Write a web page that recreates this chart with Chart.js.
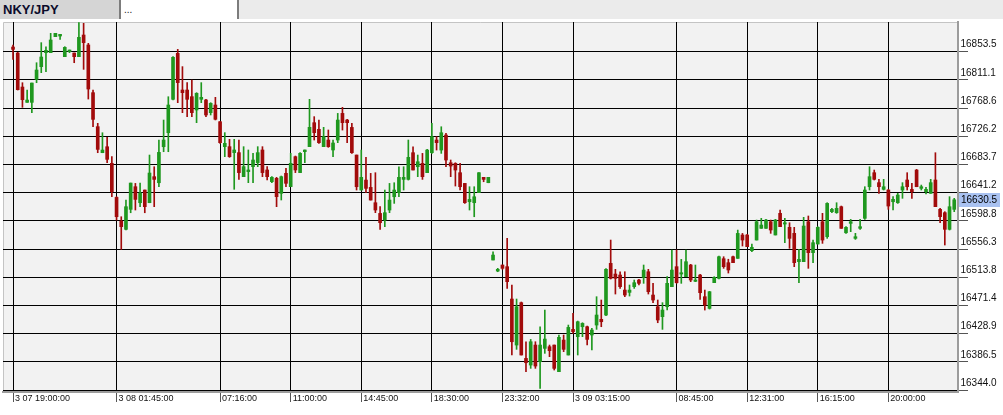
<!DOCTYPE html>
<html>
<head>
<meta charset="utf-8">
<script src="https://cdn.jsdelivr.net/npm/chart.js@4.4.1/dist/chart.umd.min.js"></script>
<style>
  html, body { margin: 0; padding: 0; background: #fff; }
  #wrap { position: relative; width: 1003px; height: 415px; overflow: hidden; }
  #c { position: absolute; left: 0; top: 0; }
  .tab { position: absolute; top: 0; height: 19px; line-height: 19px; font-family: "Liberation Sans", Arial, sans-serif; }
  #t1 { left: 0; width: 119px; background: #d5d5d5; font-weight: bold; font-size: 13px; color: #0b0b2a; padding-left: 3px; box-sizing: border-box; }
  #s1 { left: 119px; width: 2px; background: #7c7c7c; }
  #t2 { left: 121px; width: 116px; background: #fff; font-size: 10px; color: #222; padding-left: 3px; box-sizing: border-box; }
  #s2 { left: 237px; width: 2px; background: #7c7c7c; }
  #t3 { left: 239px; width: 764px; background: #ebebeb; }
</style>
</head>
<body>
<div id="wrap">
  <canvas id="c" width="1003" height="415"></canvas>
  <div class="tab" id="t1">NKY/JPY</div>
  <div class="tab" id="s1"></div>
  <div class="tab" id="t2">...</div>
  <div class="tab" id="s2"></div>
  <div class="tab" id="t3"></div>
</div>
<script>
// candles, 15 min each (index = candle number)
const openPrices = [
  16860.5, 16851.5, 16800.3, 16777.2, 16777.2, 16811.8, 16830.9, 16852.0, 16852.0, 16876.1,
  16877.1, 16846.0, 16853.5, 16851.5, 16846.0, 16878.6, 16863.6, 16791.8, 16740.6, 16701.4,
  16710.4, 16685.4, 16634.1, 16598.5, 16586.0, 16616.1, 16650.2, 16626.1, 16645.2, 16626.1,
  16665.3, 16656.2, 16710.4, 16731.5, 16781.8, 16851.0, 16795.8, 16795.8, 16785.8, 16765.7,
  16781.8, 16780.8, 16761.7, 16773.2, 16748.1, 16710.5, 16710.5, 16701.5, 16701.5, 16665.3,
  16672.9, 16680.4, 16686.4, 16705.5, 16675.4, 16657.8, 16662.8, 16640.2, 16670.4, 16650.3,
  16695.4, 16671.4, 16703.0, 16710.5, 16746.6, 16736.6, 16710.5, 16720.5, 16705.5, 16720.5,
  16760.6, 16750.6, 16739.5, 16697.9, 16645.2, 16660.2, 16649.2, 16626.1, 16610.0, 16600.0,
  16615.1, 16635.1, 16641.2, 16661.2, 16661.2, 16701.4, 16680.3, 16685.3, 16671.3, 16701.4,
  16720.5, 16705.4, 16728.0, 16686.3, 16685.3, 16671.3, 16655.2, 16627.6, 16626.1, 16641.2,
  16664.3, 16656.2, 16539.8, 16523.2, 16532.3, 16529.8, 16481.1, 16411.8, 16475.6, 16391.7,
  16381.7, 16411.8, 16386.7, 16406.8, 16409.3, 16411.8, 16371.7, 16419.3, 16396.8, 16435.4,
  16424.4, 16439.4, 16439.4, 16426.9, 16441.9, 16450.5, 16457.0, 16534.8, 16518.7, 16517.2,
  16494.6, 16491.1, 16499.7, 16509.7, 16513.7, 16522.2, 16487.1, 16469.5, 16454.5, 16469.5,
  16499.7, 16529.8, 16518.7, 16514.7, 16532.3, 16507.7, 16517.2, 16484.6, 16467.0, 16505.7,
  16512.2, 16541.8, 16535.8, 16544.8, 16542.3, 16577.5, 16577.5, 16553.9, 16569.9, 16587.5,
  16587.5, 16597.5, 16577.5, 16610.1, 16594.0, 16589.0, 16580.0, 16537.3, 16537.3, 16597.5,
  16550.9, 16563.9, 16597.5, 16574.9, 16612.6, 16611.1, 16620.1, 16580.9, 16595.0, 16572.4,
  16587.5, 16602.6, 16650.2, 16671.3, 16656.3, 16646.2, 16645.2, 16627.6, 16626.1, 16645.2,
  16660.3, 16646.2, 16675.3, 16647.7, 16642.7, 16640.2, 16660.3, 16616.1, 16611.1, 16586.0,
  16616.1
];
const highPrices = [
  16863.6, 16852.5, 16806.8, 16795.8, 16806.3, 16836.9, 16867.1, 16861.0, 16881.1, 16881.1,
  16879.6, 16861.0, 16856.0, 16851.5, 16897.2, 16896.2, 16866.1, 16795.8, 16745.6, 16731.5,
  16724.5, 16695.4, 16635.2, 16605.0, 16630.1, 16655.7, 16655.2, 16655.7, 16645.2, 16697.9,
  16680.3, 16720.5, 16750.6, 16785.7, 16846.0, 16857.0, 16831.0, 16806.9, 16810.9, 16791.8,
  16806.9, 16781.8, 16776.7, 16784.8, 16748.1, 16731.6, 16721.5, 16721.5, 16720.5, 16710.5,
  16705.5, 16700.5, 16710.5, 16710.5, 16680.4, 16665.3, 16664.3, 16666.3, 16677.9, 16700.5,
  16696.4, 16701.5, 16705.5, 16781.8, 16755.7, 16750.7, 16739.6, 16735.6, 16720.5, 16760.6,
  16769.7, 16751.6, 16745.6, 16697.9, 16705.4, 16694.4, 16670.3, 16671.3, 16620.1, 16645.2,
  16655.2, 16656.2, 16680.3, 16680.3, 16720.5, 16710.4, 16697.9, 16700.4, 16706.4, 16745.6,
  16725.5, 16740.5, 16730.5, 16690.4, 16686.3, 16685.3, 16655.2, 16650.2, 16650.2, 16671.3,
  16664.3, 16664.3, 16552.3, 16527.3, 16532.3, 16572.4, 16502.2, 16481.1, 16476.6, 16416.8,
  16420.3, 16416.8, 16439.4, 16464.5, 16411.8, 16411.8, 16426.9, 16426.9, 16441.9, 16459.5,
  16447.9, 16445.4, 16440.4, 16436.9, 16484.6, 16479.6, 16526.8, 16569.9, 16525.8, 16522.2,
  16522.2, 16502.2, 16509.7, 16510.7, 16532.3, 16525.8, 16504.7, 16479.6, 16475.6, 16514.7,
  16554.9, 16554.9, 16540.8, 16554.9, 16533.3, 16532.3, 16518.2, 16494.6, 16492.6, 16514.7,
  16545.8, 16544.8, 16541.0, 16545.8, 16584.9, 16579.9, 16578.5, 16563.9, 16600.0, 16602.6,
  16601.0, 16600.0, 16601.0, 16615.1, 16602.6, 16596.0, 16589.0, 16555.9, 16604.1, 16606.1,
  16569.9, 16590.0, 16610.1, 16626.1, 16617.6, 16626.1, 16621.1, 16590.0, 16601.0, 16580.0,
  16601.0, 16650.2, 16680.3, 16675.3, 16661.3, 16661.3, 16646.2, 16635.2, 16640.2, 16656.3,
  16671.3, 16655.3, 16676.3, 16652.7, 16649.2, 16661.3, 16701.4, 16617.6, 16612.6, 16635.2,
  16632.7
];
const lowPrices = [
  16842.0, 16795.8, 16769.7, 16777.2, 16761.6, 16806.8, 16821.9, 16823.4, 16852.0, 16876.1,
  16872.1, 16846.0, 16852.0, 16836.9, 16846.0, 16826.9, 16782.2, 16740.6, 16701.4, 16701.4,
  16686.4, 16635.2, 16600.0, 16555.8, 16585.0, 16611.0, 16615.1, 16620.1, 16611.0, 16626.1,
  16620.1, 16650.2, 16702.9, 16702.9, 16780.8, 16776.7, 16761.7, 16755.7, 16755.7, 16746.6,
  16776.7, 16755.7, 16758.2, 16750.7, 16715.5, 16695.4, 16694.4, 16646.3, 16661.3, 16665.3,
  16656.3, 16656.3, 16680.4, 16665.3, 16660.3, 16656.3, 16620.1, 16630.2, 16650.3, 16650.3,
  16671.4, 16671.4, 16686.4, 16710.5, 16720.5, 16715.5, 16710.5, 16709.5, 16695.4, 16716.5,
  16735.5, 16716.5, 16700.4, 16645.2, 16645.2, 16641.2, 16630.1, 16611.1, 16586.0, 16590.0,
  16611.1, 16625.1, 16635.1, 16645.2, 16660.2, 16675.3, 16665.3, 16661.2, 16671.3, 16700.4,
  16705.4, 16700.4, 16680.3, 16665.3, 16651.2, 16645.2, 16625.1, 16615.1, 16605.0, 16641.2,
  16657.7, 16656.2, 16539.8, 16522.2, 16525.8, 16497.1, 16396.8, 16405.3, 16396.8, 16371.7,
  16376.7, 16376.7, 16346.6, 16399.3, 16394.3, 16374.2, 16371.7, 16401.8, 16396.8, 16429.4,
  16396.8, 16424.4, 16411.8, 16404.3, 16435.4, 16439.4, 16456.0, 16511.2, 16488.6, 16497.1,
  16484.6, 16485.6, 16497.1, 16502.2, 16504.7, 16488.6, 16475.6, 16445.4, 16435.4, 16464.5,
  16499.7, 16504.7, 16504.7, 16514.7, 16507.2, 16507.2, 16480.6, 16464.5, 16466.0, 16505.7,
  16511.2, 16527.3, 16520.2, 16535.8, 16542.3, 16560.9, 16559.9, 16552.4, 16569.9, 16587.5,
  16587.5, 16580.0, 16577.5, 16590.0, 16565.9, 16557.4, 16529.8, 16505.7, 16537.3, 16527.3,
  16535.8, 16563.9, 16564.9, 16572.4, 16611.1, 16610.1, 16587.5, 16579.9, 16582.5, 16570.9,
  16586.0, 16601.0, 16645.2, 16660.3, 16640.2, 16645.2, 16616.1, 16615.1, 16625.1, 16632.7,
  16645.2, 16632.7, 16650.2, 16645.2, 16639.2, 16640.2, 16620.1, 16596.0, 16562.4, 16585.0,
  16612.6
];
const closePrices = [
  16857.0, 16796.3, 16781.2, 16780.7, 16806.3, 16825.9, 16845.5, 16855.5, 16871.1, 16881.1,
  16879.6, 16860.0, 16856.0, 16846.0, 16875.1, 16867.1, 16797.3, 16751.6, 16706.4, 16705.4,
  16691.4, 16642.7, 16605.0, 16590.0, 16620.1, 16655.7, 16631.1, 16640.7, 16620.1, 16670.8,
  16661.2, 16701.9, 16720.5, 16773.2, 16845.0, 16806.9, 16791.8, 16781.8, 16761.7, 16790.8,
  16784.8, 16758.2, 16775.7, 16751.7, 16716.5, 16715.5, 16695.4, 16705.5, 16671.4, 16680.4,
  16675.4, 16690.4, 16701.5, 16671.4, 16665.3, 16664.3, 16635.2, 16665.3, 16655.3, 16685.4,
  16675.4, 16700.5, 16705.5, 16739.6, 16731.6, 16716.5, 16725.6, 16710.5, 16716.0, 16750.6,
  16746.6, 16746.6, 16701.4, 16650.2, 16664.3, 16647.7, 16630.1, 16615.1, 16596.0, 16611.1,
  16630.1, 16645.2, 16664.3, 16664.3, 16694.4, 16675.3, 16687.8, 16665.3, 16705.4, 16725.5,
  16716.5, 16731.5, 16690.4, 16681.3, 16675.3, 16650.2, 16626.1, 16631.1, 16635.1, 16671.3,
  16661.2, 16664.3, 16547.3, 16525.8, 16527.3, 16507.2, 16416.8, 16469.5, 16396.8, 16385.2,
  16416.8, 16380.2, 16411.8, 16420.8, 16403.3, 16376.7, 16423.4, 16405.3, 16438.4, 16431.9,
  16446.9, 16444.4, 16420.3, 16434.4, 16457.0, 16446.9, 16525.8, 16512.2, 16512.2, 16499.7,
  16487.1, 16494.6, 16505.7, 16504.7, 16524.7, 16492.1, 16479.6, 16449.5, 16464.5, 16504.7,
  16524.7, 16505.7, 16520.7, 16537.3, 16509.7, 16509.7, 16490.6, 16472.1, 16492.1, 16513.7,
  16544.8, 16529.8, 16524.8, 16535.8, 16579.9, 16569.9, 16559.9, 16558.9, 16597.5, 16592.5,
  16600.0, 16585.0, 16600.0, 16590.0, 16596.0, 16572.4, 16535.8, 16540.8, 16591.0, 16550.9,
  16565.9, 16589.0, 16569.9, 16625.1, 16616.1, 16617.6, 16587.5, 16589.0, 16597.5, 16574.9,
  16590.0, 16645.2, 16665.3, 16661.3, 16650.2, 16650.2, 16621.1, 16631.2, 16637.7, 16650.2,
  16650.2, 16642.7, 16650.2, 16650.2, 16646.2, 16656.3, 16620.1, 16605.1, 16586.0, 16620.1,
  16630.5
];

// time labels sit on these candle numbers
const timeTickIndex = [0, 22, 44, 59, 74, 89, 104, 119, 141, 156, 171, 186];
const timeTickLabels = ['3 07 19:00:00', '3 08 01:45:00', '07:16:00', '11:00:00', '14:45:00', '18:30:00',
  '23:32:00', '3 09 03:15:00', '08:45:00', '12:31:00', '16:15:00', '20:00:00'];
const priceTicks = [16853.5, 16811.1, 16768.6, 16726.2, 16683.7, 16641.2, 16598.8,
  16556.3, 16513.8, 16471.4, 16428.9, 16386.5, 16344.0];

const upColor = '#1f981f';
const downColor = '#a20b0b';
const candleColors = closePrices.map((c, i) => c >= openPrices[i] ? upColor : downColor);

const bodyData = closePrices.map((c, i) => ({ x: i, y: [openPrices[i], c] }));
const wickData = closePrices.map((c, i) => ({ x: i, y: [lowPrices[i], highPrices[i]] }));

const plotBackground = {
  id: 'plotBackground',
  beforeDraw(chart) {
    const { ctx, chartArea: a } = chart;
    ctx.save();
    ctx.fillStyle = '#ffffff';
    ctx.fillRect(0, 0, chart.width, chart.height);
    ctx.fillStyle = '#f2f2f2';
    ctx.fillRect(a.left, a.top, a.right - a.left, a.bottom - a.top);
    ctx.strokeStyle = '#c4c4c4';
    ctx.lineWidth = 1;
    ctx.beginPath();
    ctx.moveTo(a.left + 0.5, a.bottom);
    ctx.lineTo(a.left + 0.5, a.top + 0.5);
    ctx.lineTo(a.right, a.top + 0.5);
    ctx.stroke();
    ctx.restore();
  }
};

const lastPrice = {
  id: 'lastPrice',
  afterDraw(chart) {
    const { ctx, chartArea: a } = chart;
    const v = closePrices[closePrices.length - 1];
    const y = Math.round(chart.scales.y.getPixelForValue(v));
    ctx.save();
    ctx.fillStyle = '#a9c2f1';
    ctx.fillRect(a.right + 1, y - 7, 41, 14);
    ctx.fillStyle = '#000';
    ctx.font = '10px "Liberation Sans", Arial, sans-serif';
    ctx.textBaseline = 'middle';
    ctx.fillText(v.toFixed(1), a.right + 3, y);
    ctx.restore();
  }
};

new Chart(document.getElementById('c'), {
  type: 'bar',
  data: {
    datasets: [
      {
        data: bodyData,
        backgroundColor: candleColors,
        borderWidth: 0,
        barThickness: 3,
        minBarLength: 1,
        grouped: false,
        order: 0
      },
      {
        data: wickData,
        backgroundColor: candleColors,
        borderWidth: 0,
        barThickness: 1,
        grouped: false,
        order: 1
      }
    ]
  },
  options: {
    responsive: false,
    animation: false,
    devicePixelRatio: 1,
    layout: { padding: { left: 3, top: 22, right: 0, bottom: 0 } },
    plugins: {
      legend: { display: false },
      tooltip: { enabled: false }
    },
    scales: {
      x: {
        type: 'linear',
        offset: false,
        min: -2.13,
        max: 200.8,
        afterBuildTicks: s => { s.ticks = timeTickIndex.map(v => ({ value: v })); },
        afterFit: s => { s.height = 23; },
        grid: { offset: false, color: '#000', lineWidth: 1, tickColor: '#555', tickLength: 10 },
        border: { display: true, color: '#9c9c9c', width: 2 },
        ticks: {
          autoSkip: false,
          maxRotation: 0,
          align: 'start',
          padding: -9,
          labelOffset: 2,
          color: '#111',
          font: { family: '"Liberation Sans", Arial, sans-serif', size: 9 },
          callback: v => timeTickLabels[timeTickIndex.indexOf(v)]
        }
      },
      y: {
        position: 'right',
        min: 16341.1,
        max: 16898.2,
        afterBuildTicks: s => { s.ticks = priceTicks.map(v => ({ value: v })); },
        afterFit: s => { s.width = 45; },
        grid: { color: '#000', lineWidth: 1, tickColor: '#555', tickLength: 10 },
        border: { display: true, color: '#9c9c9c', width: 2 },
        ticks: {
          padding: -7.5,
          labelOffset: -7,
          color: '#111',
          font: { family: '"Liberation Sans", Arial, sans-serif', size: 10 },
          callback: v => v.toFixed(1)
        }
      }
    }
  },
  plugins: [plotBackground, lastPrice]
});
</script>
</body>
</html>
